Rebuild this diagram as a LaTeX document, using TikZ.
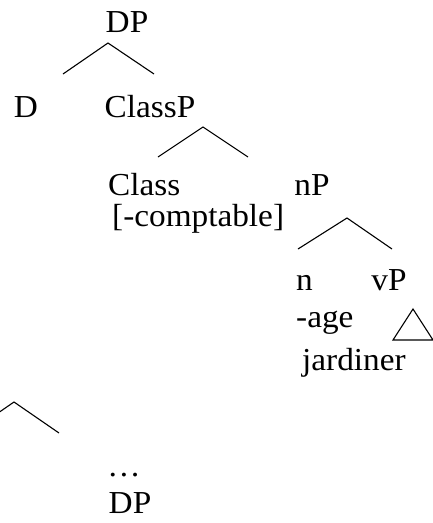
\documentclass[tikz,border=0pt]{standalone}
\usepackage{fontspec}
\setmainfont{Liberation Serif}[FakeStretch=1.04]
\begin{document}
\begin{tikzpicture}[x=1pt,y=-1pt,
  lbl/.style={inner sep=0pt,anchor=base,font=\fontsize{32}{36}\selectfont},
  lblw/.style={lbl,anchor=base west},
  branch/.style={line width=1.1pt,line join=miter}]
\useasboundingbox (0,0) rectangle (433,523);
\clip (0,0) rectangle (433,523);
% labels
\node[lbl] (dp) at (127,32) {DP};
\node[lbl] (d) at (26,117) {D};
\node[lbl] (classp) at (150,117) {ClassP};
\node[lblw] (class) at (108,195) {Class};
\node[lbl] (np) at (312,195) {nP};
\node[lblw] (feat) at (112,226) {[-comptable]};
\node[lblw] (n) at (296,290) {n};
\node[lbl] (vp) at (389,290) {vP};
\node[lblw] (age) at (296,327) {-age};
\node[lblw] (jard) at (302,370) {jardiner};
\node[lbl] (dots) at (124,476) {\dots};
\node[lbl] (dp2) at (130,513) {DP};
% branches
\coordinate (a1) at (108,43);
\coordinate (l1) at (63,74);
\coordinate (r1) at (154,74);
\draw[branch] (l1) -- (a1) -- (r1);
\coordinate (a2) at (203,127);
\coordinate (l2) at (158,157);
\coordinate (r2) at (248,157);
\draw[branch] (l2) -- (a2) -- (r2);
\coordinate (a3) at (347,218);
\coordinate (l3) at (298,249);
\coordinate (r3) at (392,249);
\draw[branch] (l3) -- (a3) -- (r3);
\coordinate (a4) at (14,402);
\coordinate (l4) at (-31,433);
\coordinate (r4) at (59,433);
\draw[branch] (l4) -- (a4) -- (r4);
% triangle
\coordinate (ta) at (413,309);
\coordinate (tl) at (393,340);
\coordinate (tr) at (433,340);
\draw[branch] (tl) -- (ta) -- (tr) -- cycle;
\end{tikzpicture}
\end{document}
